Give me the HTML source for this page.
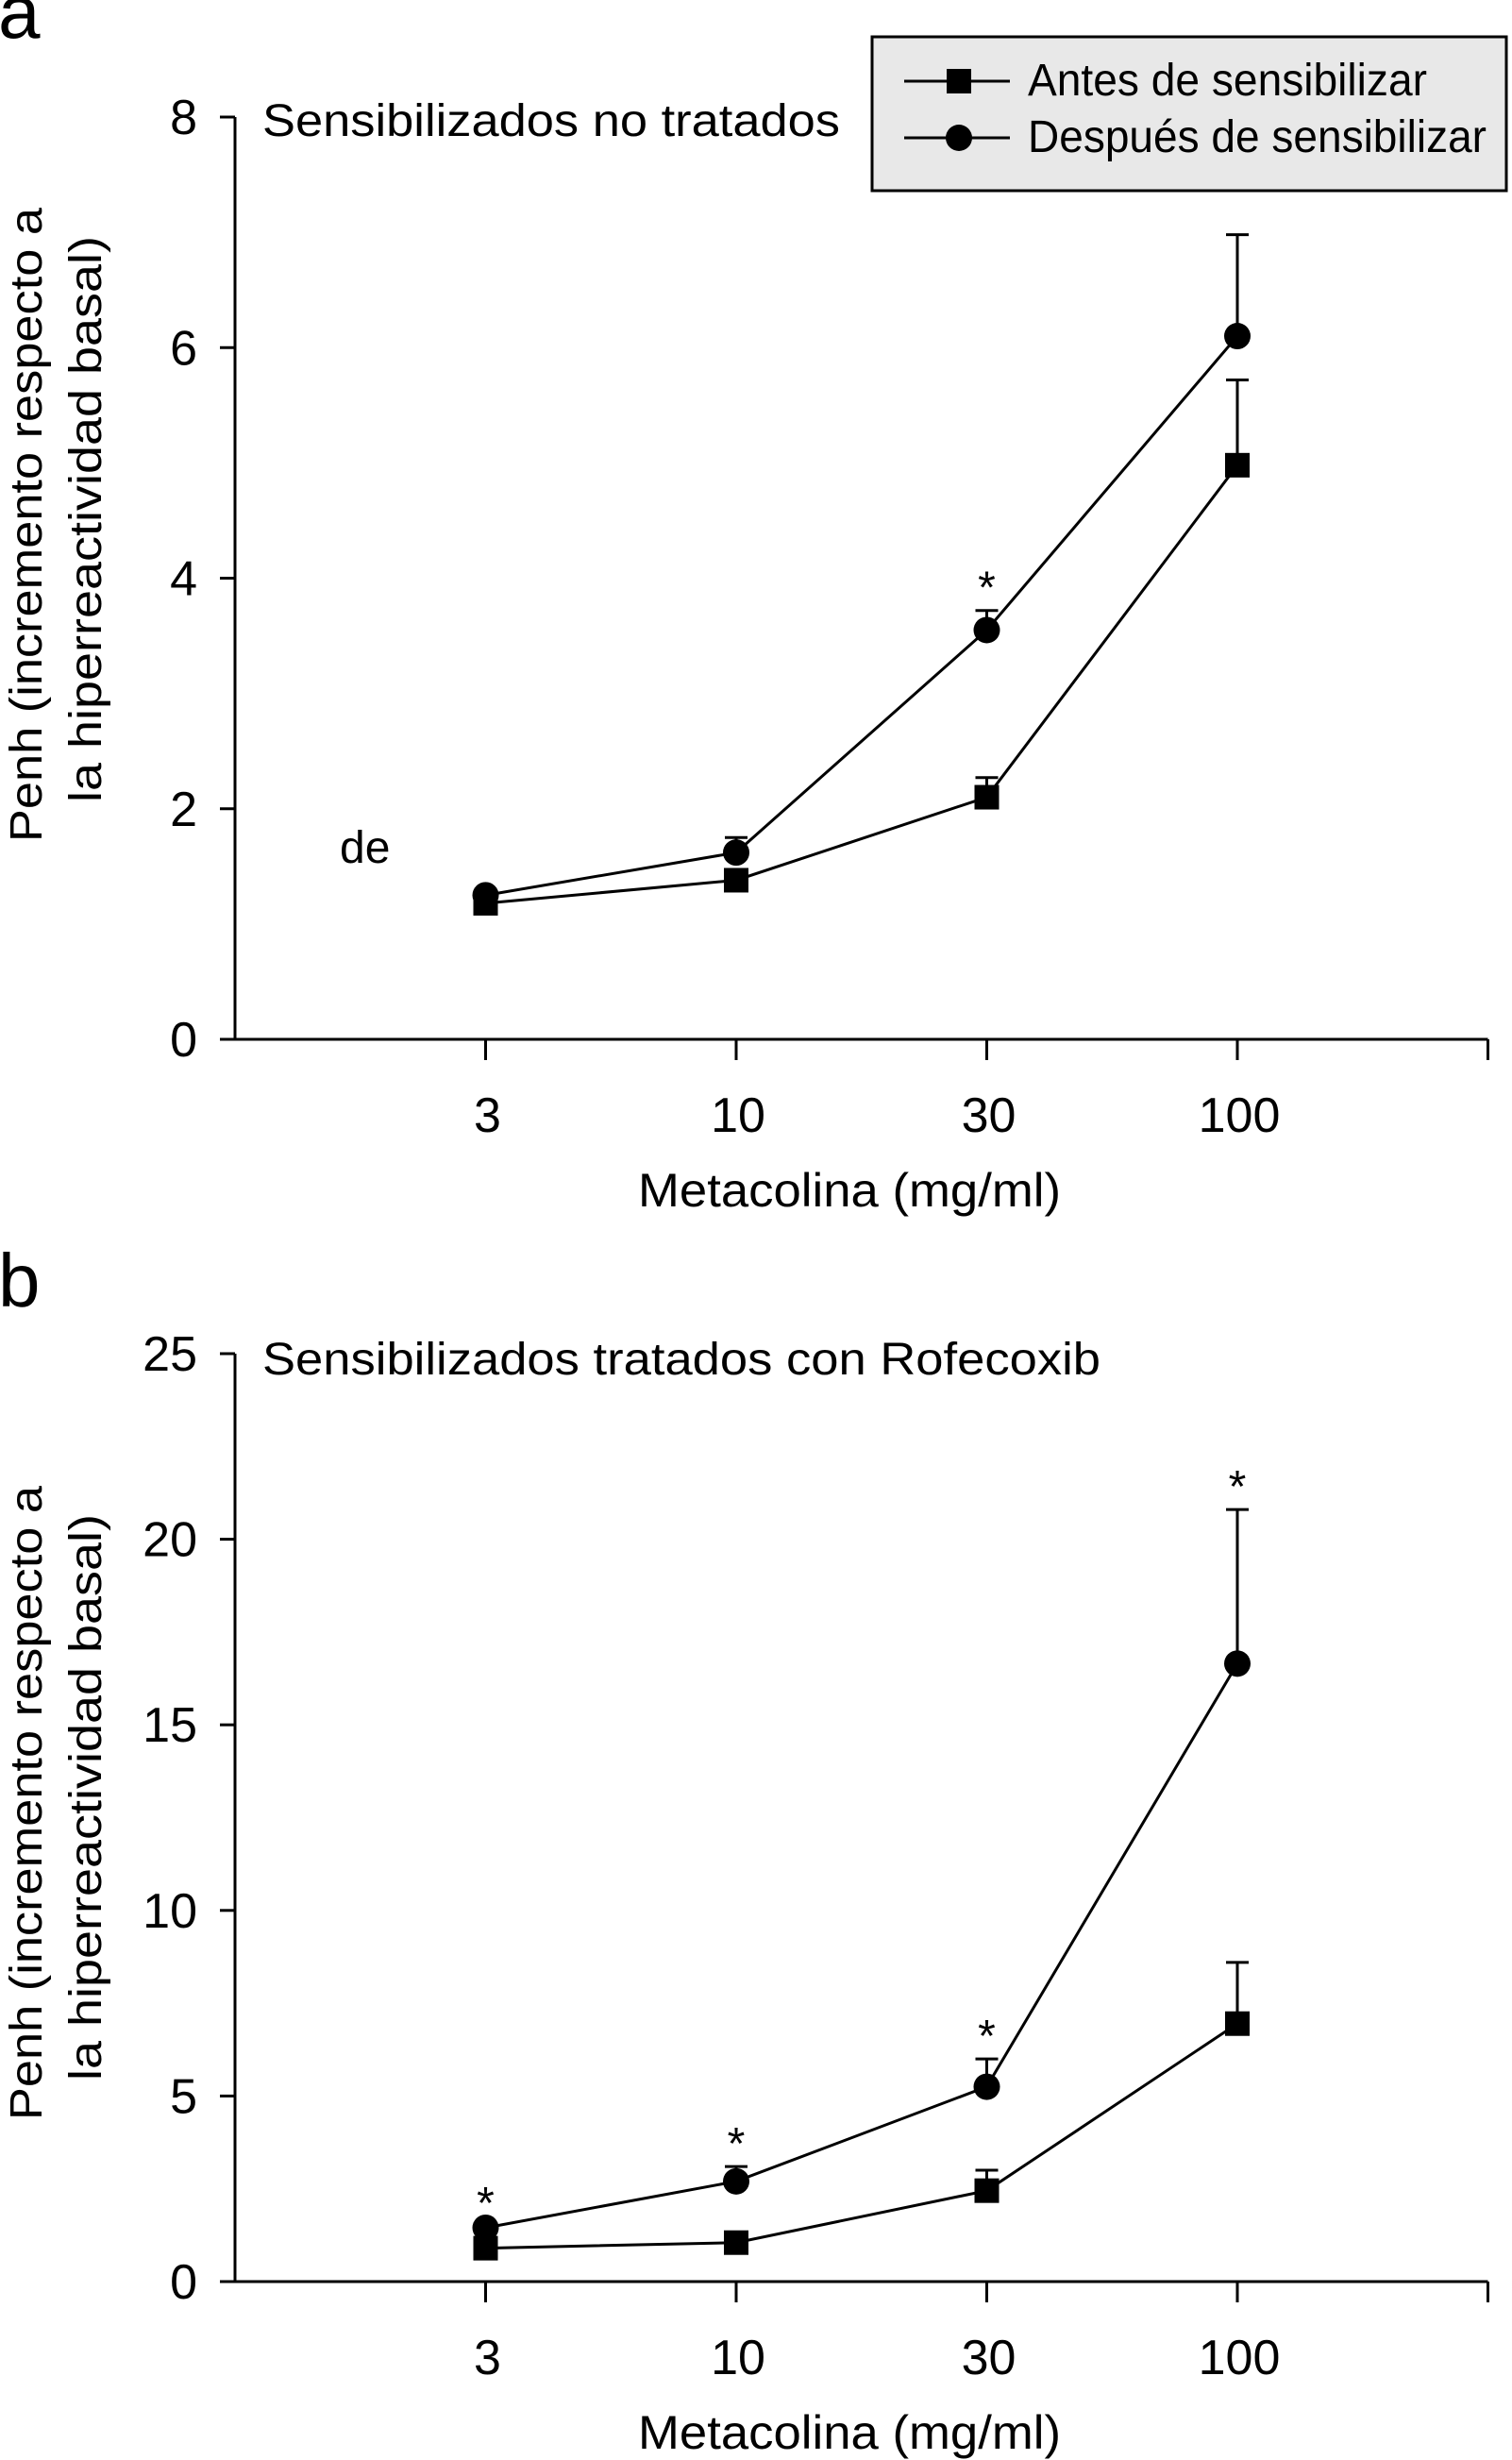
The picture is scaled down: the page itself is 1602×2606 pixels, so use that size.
<!DOCTYPE html>
<html><head><meta charset="utf-8">
<style>
html,body{margin:0;padding:0;background:#fff;}
svg{display:block;font-family:"Liberation Sans",Arial,sans-serif;}
</style></head>
<body>
<svg id="fig" width="1602" height="2606" viewBox="0 0 1602 2606" xmlns="http://www.w3.org/2000/svg"></svg>
<script>
const doses = ["3","10","30","100"];
const aTicks = [0,2,4,6,8];
const aAntes = [1.18,1.38,2.1,4.98];
const aAntesErr = [1.2,1.47,2.27,5.72];
const aDesp = [1.25,1.62,3.55,6.1];
const aDespErr = [1.3,1.75,3.72,6.98];
const aStars = [false,false,true,false];
const bTicks = [0,5,10,15,20,25];
const bAntes = [0.9,1.05,2.45,6.95];
const bAntesErr = [0.95,1.3,3.0,8.6];
const bDesp = [1.45,2.7,5.25,16.65];
const bDespErr = [1.5,3.1,6.0,20.8];
const bStars = [true,true,true,true];

const NS="http://www.w3.org/2000/svg";
const svg=document.getElementById('fig');
function mk(tag,attrs,parent){const e=document.createElementNS(NS,tag);for(const k in attrs)e.setAttribute(k,attrs[k]);(parent||svg).appendChild(e);return e;}
function txt(s,attrs,parent){const e=mk('text',attrs,parent);e.textContent=s;return e;}

function panel(cfg){
  const g=mk('g',{});
  
  
  const x0=249, step=265.5, xEnd=x0+5*step;
  const xs=i=>x0+(i+1)*step;
  const ys=v=>cfg.y0-(v-cfg.min)/(cfg.max-cfg.min)*(cfg.y0-cfg.yTop);
  const ya=mk('line',{x1:x0,y1:ys(cfg.max),x2:x0,y2:cfg.y0,stroke:'#000','stroke-width':3},g);
  
  const xa=mk('line',{x1:x0,y1:cfg.y0,x2:xEnd,y2:cfg.y0,stroke:'#000','stroke-width':3},g);
  
  cfg.ticks.forEach(t=>{
    mk('line',{x1:x0-16,y1:ys(t),x2:x0,y2:ys(t),stroke:'#000','stroke-width':3},g);
    const l=txt(String(t),{x:x0-40,y:ys(t)+18,'font-size':52,'text-anchor':'end'},g);
    
  });
  doses.forEach((d,i)=>{
    mk('line',{x1:xs(i),y1:cfg.y0,x2:xs(i),y2:cfg.y0+22,stroke:'#000','stroke-width':3},g);
    const l=txt(d,{x:xs(i)+2,y:cfg.y0+98,'font-size':52,'text-anchor':'middle'},g);
    
  });
  mk('line',{x1:xEnd,y1:cfg.y0,x2:xEnd,y2:cfg.y0+22,stroke:'#000','stroke-width':3},g);
  const xt=txt('Metacolina (mg/ml)',{x:900,y:cfg.y0+177,'font-size':50,'text-anchor':'middle',textLength:448,lengthAdjust:'spacingAndGlyphs'},g);
  
  const cy=cfg.yTitleC;
  const t1=txt('Penh (incremento respecto a',{x:0,y:0,'font-size':48,'text-anchor':'middle',textLength:672,lengthAdjust:'spacingAndGlyphs',transform:`translate(44,${cy}) rotate(-90)`},g);
  
  const t2=txt('la hiperreactividad basal)',{x:0,y:0,'font-size':48,'text-anchor':'middle',textLength:600,lengthAdjust:'spacingAndGlyphs',transform:`translate(107,${cy-6}) rotate(-90)`},g);
  
  const pt=txt(cfg.title,{x:278,y:cfg.titleY,'font-size':48,textLength:cfg.titleLen,lengthAdjust:'spacingAndGlyphs'},g);
  
  const pl=txt(cfg.letter,{x:-2,y:cfg.letterY,'font-size':80},g);
  
  function series(vals,errs,shape,nm,stars){
    const sg=mk('g',{},g);
    
    const ln=mk('polyline',{points:vals.map((v,i)=>xs(i)+','+ys(v)).join(' '),fill:'none',stroke:'#000','stroke-width':3},sg);
    
    vals.forEach((v,i)=>{
      const x=xs(i),y=ys(v),ye=ys(errs[i]);
      mk('line',{x1:x,y1:y,x2:x,y2:ye,stroke:'#000','stroke-width':3},sg);
      mk('line',{x1:x-12,y1:ye,x2:x+12,y2:ye,stroke:'#000','stroke-width':3},sg);
      let m;
      if(shape==='sq') m=mk('rect',{x:x-13,y:y-13,width:26,height:26,fill:'#000'},sg);
      else m=mk('circle',{cx:x,cy:y,r:14,fill:'#000'},sg);
      
      if(stars&&stars[i]){
        const s=txt('*',{x:x,y:ye-8,'font-size':48,'text-anchor':'middle'},sg);
        
      }
    });
  }
  series(cfg.antes,cfg.antesErr,'sq','antes-series',null);
  series(cfg.desp,cfg.despErr,'ci','despues-series',cfg.stars);
  return g;
}

panel({name:'panel-a',letter:'a',letterY:40,title:'Sensibilizados no tratados',titleY:144,titleLen:612,
  min:0,max:8,y0:1101,yTop:124,ticks:aTicks,antes:aAntes,antesErr:aAntesErr,desp:aDesp,despErr:aDespErr,stars:aStars,yTitleC:556});
const de=txt('de',{x:360,y:914,'font-size':48});


panel({name:'panel-b',letter:'b',letterY:1384,title:'Sensibilizados tratados con Rofecoxib',titleY:1456,titleLen:888,
  min:0,max:25,y0:2417,yTop:1434,ticks:bTicks,antes:bAntes,antesErr:bAntesErr,desp:bDesp,despErr:bDespErr,stars:bStars,yTitleC:1910});

const lg=mk('g',{});

mk('rect',{x:924,y:39,width:672,height:163,fill:'#e8e8e8',stroke:'#000','stroke-width':3},lg);
const e1=mk('g',{},lg);

mk('line',{x1:958,y1:86,x2:1070,y2:86,stroke:'#000','stroke-width':3},e1);
mk('rect',{x:1003,y:73,width:26,height:26,fill:'#000'},e1);
txt('Antes de sensibilizar',{x:1089,y:101,'font-size':48,textLength:423,lengthAdjust:'spacingAndGlyphs'},e1);
const e2=mk('g',{},lg);

mk('line',{x1:958,y1:146,x2:1070,y2:146,stroke:'#000','stroke-width':3},e2);
mk('circle',{cx:1016,cy:146,r:14,fill:'#000'},e2);
txt('Después de sensibilizar',{x:1089,y:161,'font-size':48,textLength:486,lengthAdjust:'spacingAndGlyphs'},e2);
</script>
</body></html>
